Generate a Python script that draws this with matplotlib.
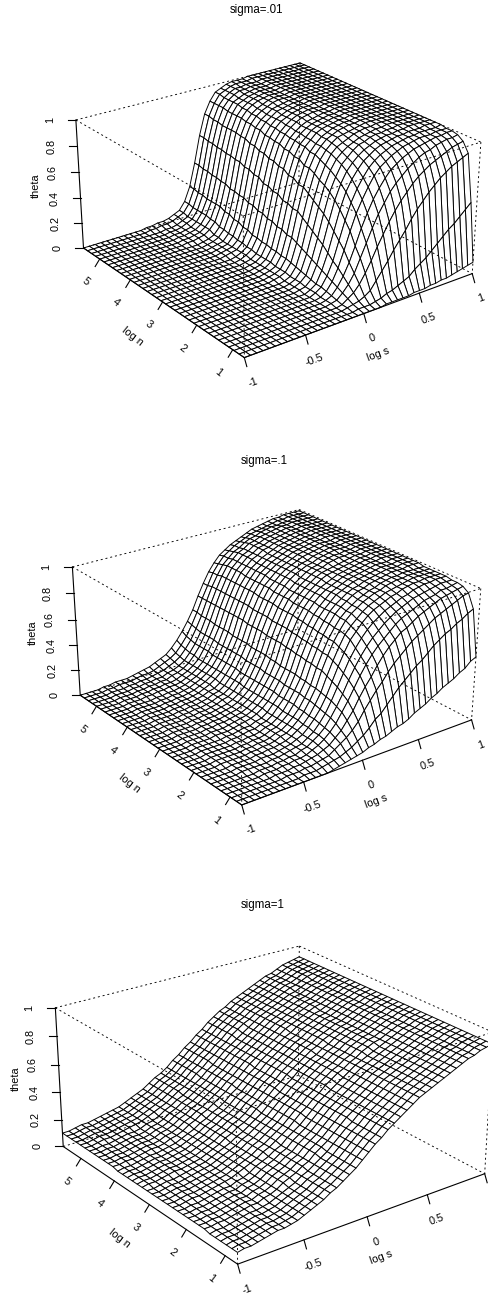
import numpy as np
import matplotlib
matplotlib.use('Agg')
import matplotlib.pyplot as plt
from matplotlib.collections import PolyCollection

plt.rcParams['font.family'] = ['Liberation Sans', 'DejaVu Sans']

# grid of the surfaces, log s along the columns and log n along the rows (front to back)
log_s = np.arange(-20, 21) / 20
log_n = np.linspace(0.69, 5.55, 36)

s_ticks = [-1, -0.5, 0, 0.5, 1]
s_tick_labels = ['-1', '-0.5', '0', '0.5', '1']
n_ticks = [1, 2, 3, 4, 5]
theta_ticks = [0, 0.2, 0.4, 0.6, 0.8, 1]
theta_tick_labels = ['0', '0.2', '0.4', '0.6', '0.8', '1']

# theta in percent. Rows that look the same are repeated.
theta_sigma_01 = [
    [0]*24 + [1, 1, 1, 1, 1, 2, 2, 2, 3, 3, 4, 4, 5, 6, 7, 8, 9],
    [0]*20 + [1, 1, 1, 2, 3, 5, 6, 8, 10, 12, 16, 19, 22, 26, 30, 34, 38, 41, 45, 49, 53],
    [0]*19 + [1, 2, 3, 5, 8, 14, 20, 26, 33, 39, 45, 52, 58, 63, 68, 72, 76, 79, 82, 84, 86, 88],
    [0]*19 + [1, 4, 7, 12, 19, 27, 36, 44, 52, 59, 65, 70, 75, 79, 82, 85, 87, 89, 91, 93, 94, 95],
    [0]*18 + [1, 2, 6, 11, 18, 28, 38, 48, 57, 64, 71, 76, 80, 84, 87, 90, 92, 93, 95, 96, 97, 97, 98],
    [0]*18 + [1, 3, 8, 15, 24, 35, 47, 57, 66, 73, 79, 84, 87, 90, 92, 94, 95, 96, 97, 98, 98, 99, 99],
    [0]*18 + [1, 4, 10, 19, 31, 44, 56, 65, 73, 80, 85, 88, 91, 93, 95, 96, 97, 98, 98, 98, 99, 99, 99],
    [0]*18 + [2, 5, 12, 22, 36, 50, 62, 71, 78, 84, 88, 91, 93, 95, 96, 97, 98, 98, 99, 99, 99, 99, 100],
    [0]*18 + [2, 5, 14, 26, 41, 56, 68, 76, 82, 87, 90, 93, 95, 96, 97, 98, 98, 99, 99, 99, 100, 100, 100],
    [0]*17 + [1, 2, 6, 16, 30, 46, 61, 72, 80, 85, 89, 92, 94, 96, 97, 98, 98, 99, 99] + [100]*5,
    [0]*17 + [1, 3, 7, 18, 33, 50, 65, 75, 83, 87, 91, 94, 95, 97, 98, 98, 99, 99] + [100]*6,
    [0]*17 + [1, 3, 8, 20, 36, 53, 68, 78, 85, 89, 92, 94, 96, 97, 98, 99, 99] + [100]*7,
    [0]*17 + [1, 3, 9, 22, 39, 56, 70, 80, 87, 91, 93, 95, 97, 98, 99, 99] + [100]*8,
    [0]*16 + [1, 2, 4, 10, 24, 42, 59, 73, 82, 88, 92, 95, 96, 97, 98, 99] + [100]*9,
    *[[0]*16 + [1, 2, 4, 11, 26, 45, 62, 75, 84, 89, 93, 95, 97, 98, 99, 99] + [100]*9]*2,
    *[[0]*16 + [1, 2, 5, 12, 28, 47, 65, 78, 86, 90, 94, 96, 97, 98, 99, 99] + [100]*9]*2,
    *[[0]*16 + [1, 2, 5, 13, 30, 50, 68, 80, 87, 91, 94, 96, 97, 98, 99, 99] + [100]*9]*2,
    *[[0]*16 + [1, 3, 6, 14, 32, 52, 70, 82, 88, 92, 95, 97, 98, 99, 99, 99] + [100]*9]*2,
    *[[0]*15 + [1, 2, 3, 7, 16, 34, 55, 72, 83, 89, 93, 95, 97, 98, 99, 99] + [100]*10]*2,
    *[[0]*15 + [1, 2, 3, 8, 18, 36, 57, 74, 85, 90, 93, 96, 97, 98, 99, 99] + [100]*10]*2,
    *[[0]*15 + [1, 2, 4, 9, 20, 37, 59, 76, 86, 91, 94, 96, 98, 99, 99, 99] + [100]*10]*2,
    *[[0]*13 + [1, 1, 2, 3, 6, 11, 22, 39, 60, 77, 87, 92, 95, 97, 98, 99, 99, 99] + [100]*10]*2,
    *[[0]*13 + [1, 1, 2, 3, 6, 12, 22, 40, 61, 77, 87, 93, 95, 97, 98, 99, 99, 99] + [100]*10]*2,
    *[[0]*13 + [1, 1, 2, 4, 6, 12, 23, 41, 62, 78, 88, 93, 96, 98, 98, 99, 99, 99] + [100]*10]*2,
    *[[0]*11 + [1, 1, 2, 2, 3, 5, 7, 13, 24, 42, 63, 79, 88, 94, 96, 98, 99, 99, 99] + [100]*11]*2,
]

theta_sigma_1 = [
    [0]*15 + [1, 2, 3, 4, 5, 6, 8, 9, 11, 12, 14, 16, 17, 19, 22, 24, 26, 29, 31, 34, 36, 38, 41, 43, 47, 49],
    [0]*11 + [1, 1, 1, 2, 3, 4, 5, 7, 9, 12, 15, 19, 24, 27, 32, 37, 42, 46, 50, 54, 57, 61, 65, 68, 71, 73, 76, 78, 81, 83],
    [0]*9 + [1, 1, 1, 2, 2, 3, 4, 5, 8, 11, 14, 18, 23, 30, 36, 42, 47, 53, 58, 62, 66, 70, 73, 76, 79, 82, 84, 86, 88, 90, 92, 93],
    [0]*8 + [1, 1, 1, 2, 2, 3, 4, 5, 7, 9, 13, 17, 23, 29, 37, 44, 50, 57, 63, 68, 72, 76, 78, 81, 84, 86, 88, 90, 92, 93, 94, 95, 96],
    [0]*7 + [1, 1, 1, 2, 2, 3, 3, 4, 6, 8, 11, 15, 20, 27, 34, 42, 50, 57, 63, 68, 72, 76, 80, 83, 85, 87, 89, 91, 92, 93, 95, 95, 96, 97],
    [0]*7 + [1, 1, 1, 2, 2, 3, 3, 5, 6, 9, 12, 16, 22, 29, 37, 46, 54, 61, 67, 72, 76, 80, 83, 86, 88, 90, 92, 93, 94, 95, 96, 97, 97, 97],
    [0]*5 + [1, 1, 1, 1, 1, 2, 2, 3, 4, 5, 6, 9, 12, 17, 23, 31, 40, 49, 58, 65, 71, 76, 80, 83, 86, 88, 90, 92, 93, 95, 96, 97, 97, 98, 98, 98],
    [0]*5 + [1, 1, 1, 1, 2, 2, 2, 3, 4, 5, 7, 9, 13, 18, 24, 32, 42, 52, 61, 69, 74, 79, 83, 86, 88, 90, 92, 93, 95, 96, 97, 97, 98, 98, 98, 98],
    [0]*5 + [1, 1, 1, 1, 2, 2, 3, 3, 4, 5, 7, 10, 13, 18, 25, 33, 44, 54, 63, 71, 76, 80, 84, 87, 89, 91, 93, 94, 95, 96, 97, 98, 98, 98, 98, 98],
    *[[0]*4 + [1, 1, 1, 1, 1, 2, 2, 3, 3, 4, 6, 7, 10, 14, 19, 26, 34, 46, 56, 65, 72, 78, 82, 85, 88, 90, 92, 93, 95, 96, 97, 97, 98, 98, 98, 98, 98]]*2,
    *[[0]*4 + [1, 1, 1, 1, 1, 2, 2, 3, 3, 4, 6, 7, 10, 14, 20, 27, 35, 47, 57, 66, 73, 79, 83, 86, 89, 91, 92, 94, 95, 96, 97, 98, 98, 98, 99, 99, 99]]*2,
    *[[0]*4 + [1, 1, 1, 1, 1, 2, 2, 3, 4, 4, 6, 7, 10, 15, 20, 27, 36, 48, 58, 67, 74, 79, 83, 87, 89, 91, 93, 94, 95, 96, 97, 98, 98, 98, 99, 99, 99]]*2,
    *[[0]*4 + [1, 1, 1, 1, 2, 2, 2, 3, 4, 5, 6, 8, 11, 15, 21, 28, 36, 49, 59, 68, 75, 80, 84, 87, 89, 91, 93, 94, 95, 96, 97, 98, 98, 99, 99, 99, 99]]*2,
    *[[0]*4 + [1, 1, 1, 1, 2, 2, 3, 3, 4, 5, 6, 8, 11, 15, 21, 28, 37, 50, 60, 69, 75, 80, 84, 87, 90, 92, 93, 94, 95, 96, 97, 98, 98, 99, 99, 99, 99]]*2,
    *[[0]*4 + [1, 1, 1, 1, 2, 2, 3, 3, 4, 5, 6, 8, 11, 15, 21, 29, 38, 50, 60, 69, 76, 80, 84, 87, 90, 92, 93, 95, 96, 97, 97, 98, 98, 99, 99, 99, 99]]*2,
    *[[0]*4 + [1, 1, 1, 1, 2, 2, 3, 3, 4, 5, 7, 8, 11, 16, 21, 29, 38, 51, 61, 70, 76, 81, 85, 88, 90, 92, 93, 95, 96, 97, 98, 98, 98, 99, 99, 99, 99]]*2,
    *[[0]*4 + [1, 1, 1, 1, 2, 2, 3, 3, 4, 5, 7, 8, 11, 16, 22, 30, 39, 51, 61, 70, 77, 81, 85, 88, 90, 92, 94, 95, 96, 97, 98, 98, 98, 99, 99, 99, 99]]*2,
    *[[0]*4 + [1, 1, 1, 1, 2, 2, 3, 3, 4, 5, 7, 9, 12, 16, 22, 30, 39, 52, 62, 71, 77, 82, 85, 88, 90, 92, 94, 95, 96, 97, 98, 98, 99, 99, 99, 99, 99]]*2,
    *[[0]*4 + [1, 1, 1, 1, 2, 2, 3, 3, 4, 5, 7, 9, 12, 16, 22, 30, 40, 52, 62, 71, 77, 82, 85, 88, 90, 92, 94, 95, 96, 97, 98, 98, 99, 99, 99, 99, 99]]*2,
    *[[0]*4 + [1, 1, 1, 2, 2, 3, 3, 4, 4, 5, 7, 9, 12, 16, 23, 31, 40, 52, 62, 71, 78, 82, 86, 88, 91, 92, 94, 95, 96, 97, 98, 98, 99, 99, 99, 99, 99]]*2,
    *[[0]*4 + [1, 1, 1, 2, 2, 3, 3, 4, 4, 6, 7, 9, 12, 17, 23, 31, 41, 52, 62, 71, 78, 82, 86, 88, 91, 92, 94, 95, 96, 97, 98, 98, 99, 99, 99, 99, 99]]*2,
    [0]*4 + [1, 1, 1, 2, 2, 3, 3, 4, 5, 6, 8, 10, 13, 18, 24, 32, 41, 52, 62, 70, 77, 81, 85, 87, 90, 92, 93, 95, 96, 97, 97, 98, 98, 99, 99, 99, 99],
    [0]*4 + [1, 1, 2, 2, 2, 3, 4, 4, 5, 7, 9, 11, 14, 19, 25, 33, 42, 52, 61, 70, 76, 81, 84, 87, 89, 91, 93, 94, 95, 96, 97, 98, 98, 99, 99, 99, 99],
    [0]*4 + [1, 1, 2, 2, 2, 3, 4, 5, 6, 8, 10, 12, 16, 21, 27, 34, 42, 52, 61, 69, 75, 80, 83, 86, 88, 90, 92, 94, 95, 96, 97, 98, 98, 99, 99, 99, 99],
]

theta_sigma_10 = [
    *[[8, 9, 9, 10, 11, 12, 13, 13, 14, 15, 17, 19, 21, 23, 26, 28, 31, 34, 37, 41, 45, 49, 52, 56, 59, 62, 65, 68, 71, 73, 75, 77, 79, 81, 83, 85, 87, 88, 90, 91, 92]]*6,
    *[[9, 9, 10, 10, 11, 12, 13, 14, 14, 16, 17, 19, 22, 24, 26, 29, 31, 35, 38, 41, 45, 49, 53, 56, 59, 62, 65, 68, 71, 73, 75, 77, 79, 81, 83, 85, 87, 88, 90, 91, 92]]*6,
    *[[9, 9, 10, 11, 11, 12, 13, 14, 15, 16, 18, 20, 22, 24, 27, 29, 32, 35, 38, 42, 46, 49, 53, 56, 60, 63, 66, 68, 71, 73, 76, 78, 80, 81, 83, 85, 87, 88, 90, 91, 92]]*6,
    *[[9, 10, 10, 11, 12, 13, 13, 14, 15, 16, 18, 20, 22, 25, 27, 30, 32, 35, 39, 42, 46, 50, 53, 57, 60, 63, 66, 69, 71, 74, 76, 78, 80, 81, 83, 85, 87, 88, 90, 91, 92]]*6,
    *[[10, 10, 11, 11, 12, 13, 14, 14, 15, 17, 18, 20, 23, 25, 28, 30, 33, 36, 39, 43, 46, 50, 54, 57, 60, 63, 66, 69, 72, 74, 76, 78, 80, 82, 83, 85, 87, 88, 90, 91, 92]]*6,
    *[[10, 10, 11, 12, 12, 13, 14, 15, 16, 17, 19, 21, 23, 25, 28, 31, 33, 36, 40, 43, 47, 50, 54, 57, 61, 64, 67, 69, 72, 74, 76, 78, 80, 82, 84, 85, 87, 89, 90, 91, 92]]*6,
]

titles = ['sigma=.01', 'sigma=.1', 'sigma=1']
title_pos = [(256, 10), (264, 461), (263, 905)]

# where the corners of each box land on the page, used to fit the camera:
# (s, n, theta) with 0/1 for low/high end of each axis -> pixel
corner_ids = [(0, 1, 0), (0, 1, 1), (1, 1, 1), (1, 0, 1), (0, 0, 0), (1, 0, 0), (1, 1, 0), (0, 0, 1)]
cameras = [
    [(83.3, 247.3), (76, 120), (300, 62.7), (480.7, 141.7), (244.3, 357.7), (472.3, 273.3), (299, 183.3), (243.3, 216.7)],
    [(80, 694.7), (72.7, 566.7), (299, 509.3), (480.7, 588.3), (241.7, 805), (471.7, 719.3), (298, 630), (240.7, 664)],
    [(63.3, 1146.7), (55.7, 1007.3), (299, 945.7), (493, 1033), (237.3, 1264.3), (485, 1172.7), (298.3, 1076), (236, 1111.7)],
]

TICK_SIZE = 7.8


def fit_camera(pixels):
    rows = []
    rhs = []
    for (u, v, w), (x, y) in zip(corner_ids, pixels):
        rows.append([u, v, w, 1, 0, 0, 0, 0, -x*u, -x*v, -x*w])
        rows.append([0, 0, 0, 0, u, v, w, 1, -y*u, -y*v, -y*w])
        rhs += [x, y]
    p = np.linalg.lstsq(np.array(rows, float), np.array(rhs, float), rcond=None)[0]
    return np.append(p, 1).reshape(3, 4)


def project(cam, s, n, t):
    u = (np.asarray(s, float) - log_s[0]) / (log_s[-1] - log_s[0])
    v = (np.asarray(n, float) - log_n[0]) / (log_n[-1] - log_n[0])
    w = np.asarray(t, float)
    h = cam @ np.array([u, v, w, np.ones_like(u)])
    return h[0] / h[2], h[1] / h[2]


def draw_persp(ax, cam, z):
    s_grid, n_grid = np.meshgrid(log_s, log_n)
    px, py = project(cam, s_grid.ravel(), n_grid.ravel(), z.ravel())
    px = px.reshape(z.shape)
    py = py.reshape(z.shape)

    # back to front so the nearer cells hide the farther ones
    polys = []
    for i in range(z.shape[0] - 2, -1, -1):
        for k in range(z.shape[1] - 2, -1, -1):
            polys.append([(px[i, k], py[i, k]), (px[i, k+1], py[i, k+1]),
                          (px[i+1, k+1], py[i+1, k+1]), (px[i+1, k], py[i+1, k])])
    ax.add_collection(PolyCollection(polys, facecolors='white', edgecolors='black', linewidths=0.68, zorder=2))

    s0, s1 = log_s[0], log_s[-1]
    n0, n1 = log_n[0], log_n[-1]

    def edge(a, b, **kw):
        x, y = project(cam, [a[0], b[0]], [a[1], b[1]], [a[2], b[2]])
        ax.plot(x, y, color='black', zorder=3, **kw)

    dash = dict(lw=0.65, linestyle=(0, (2.2, 3.2)))
    for a, b in [((s0, n1, 1), (s1, n1, 1)), ((s1, n1, 1), (s1, n0, 1)), ((s1, n0, 1), (s1, n0, 0)),
                 ((s0, n1, 1), (s0, n0, 1)), ((s0, n0, 1), (s1, n0, 1)), ((s0, n1, 0), (s1, n1, 0)),
                 ((s1, n1, 0), (s1, n0, 0)), ((s1, n1, 1), (s1, n1, 0)), ((s0, n0, 1), (s0, n0, 0))]:
        edge(a, b, **dash)

    solid = dict(lw=0.8)
    edge((s0, n1, 0), (s0, n0, 0), **solid)
    edge((s0, n0, 0), (s1, n0, 0), **solid)
    edge((s0, n1, 0), (s0, n1, 1), **solid)

    # axis ticks and labels, offsets in pixels
    for val, lab in zip(s_ticks, s_tick_labels):
        x, y = project(cam, [val], [n0], [0])
        ax.plot([x[0], x[0] + 2.5], [y[0], y[0] + 9], color='black', lw=0.8, zorder=3)
        # the last label of the bottom panel falls off the page
        if x[0] + 9 < 488:
            ax.text(x[0] + 9, y[0] + 25, lab, fontsize=TICK_SIZE, rotation=20, ha='center', va='center', rotation_mode='anchor')
    for val in n_ticks:
        x, y = project(cam, [s0], [val], [0])
        ax.plot([x[0], x[0] - 4.5], [y[0], y[0] + 7.5], color='black', lw=0.8, zorder=3)
        ax.text(x[0] - 14, y[0] + 23, str(val), fontsize=TICK_SIZE, rotation=-38, ha='center', va='center', rotation_mode='anchor')
    for val, lab in zip(theta_ticks, theta_tick_labels):
        x, y = project(cam, [s0], [n1], [val])
        ax.plot([x[0], x[0] - 8], [y[0], y[0]], color='black', lw=0.8, zorder=3)
        ax.text(x[0] - 26, y[0], lab, fontsize=TICK_SIZE, rotation=90, ha='center', va='center', rotation_mode='anchor')

    x, y = project(cam, [0], [n0], [0])
    ax.text(x[0] + 14, y[0] + 41, 'log s', fontsize=TICK_SIZE, rotation=20, ha='center', va='center', rotation_mode='anchor')
    x, y = project(cam, [s0], [(n0 + n1) / 2], [0])
    ax.text(x[0] - 26, y[0] + 37, 'log n', fontsize=TICK_SIZE, rotation=-38, ha='center', va='center', rotation_mode='anchor')
    x, y = project(cam, [s0], [n1], [0.5])
    ax.text(x[0] - 44, y[0], 'theta', fontsize=TICK_SIZE, rotation=90, ha='center', va='center', rotation_mode='anchor')


fig = plt.figure(figsize=(4.88, 12.95), dpi=100)
ax = fig.add_axes([0, 0, 1, 1])
ax.set_xlim(0, 488)
ax.set_ylim(1295, 0)
ax.axis('off')

surfaces = [theta_sigma_01, theta_sigma_1, theta_sigma_10]
for pixels, rows, name, pos in zip(cameras, surfaces, titles, title_pos):
    draw_persp(ax, fit_camera(pixels), np.array(rows, float) / 100)
    ax.text(pos[0], pos[1], name, fontsize=8.3, ha='center', va='center')

fig.savefig('out.png', dpi=100)
